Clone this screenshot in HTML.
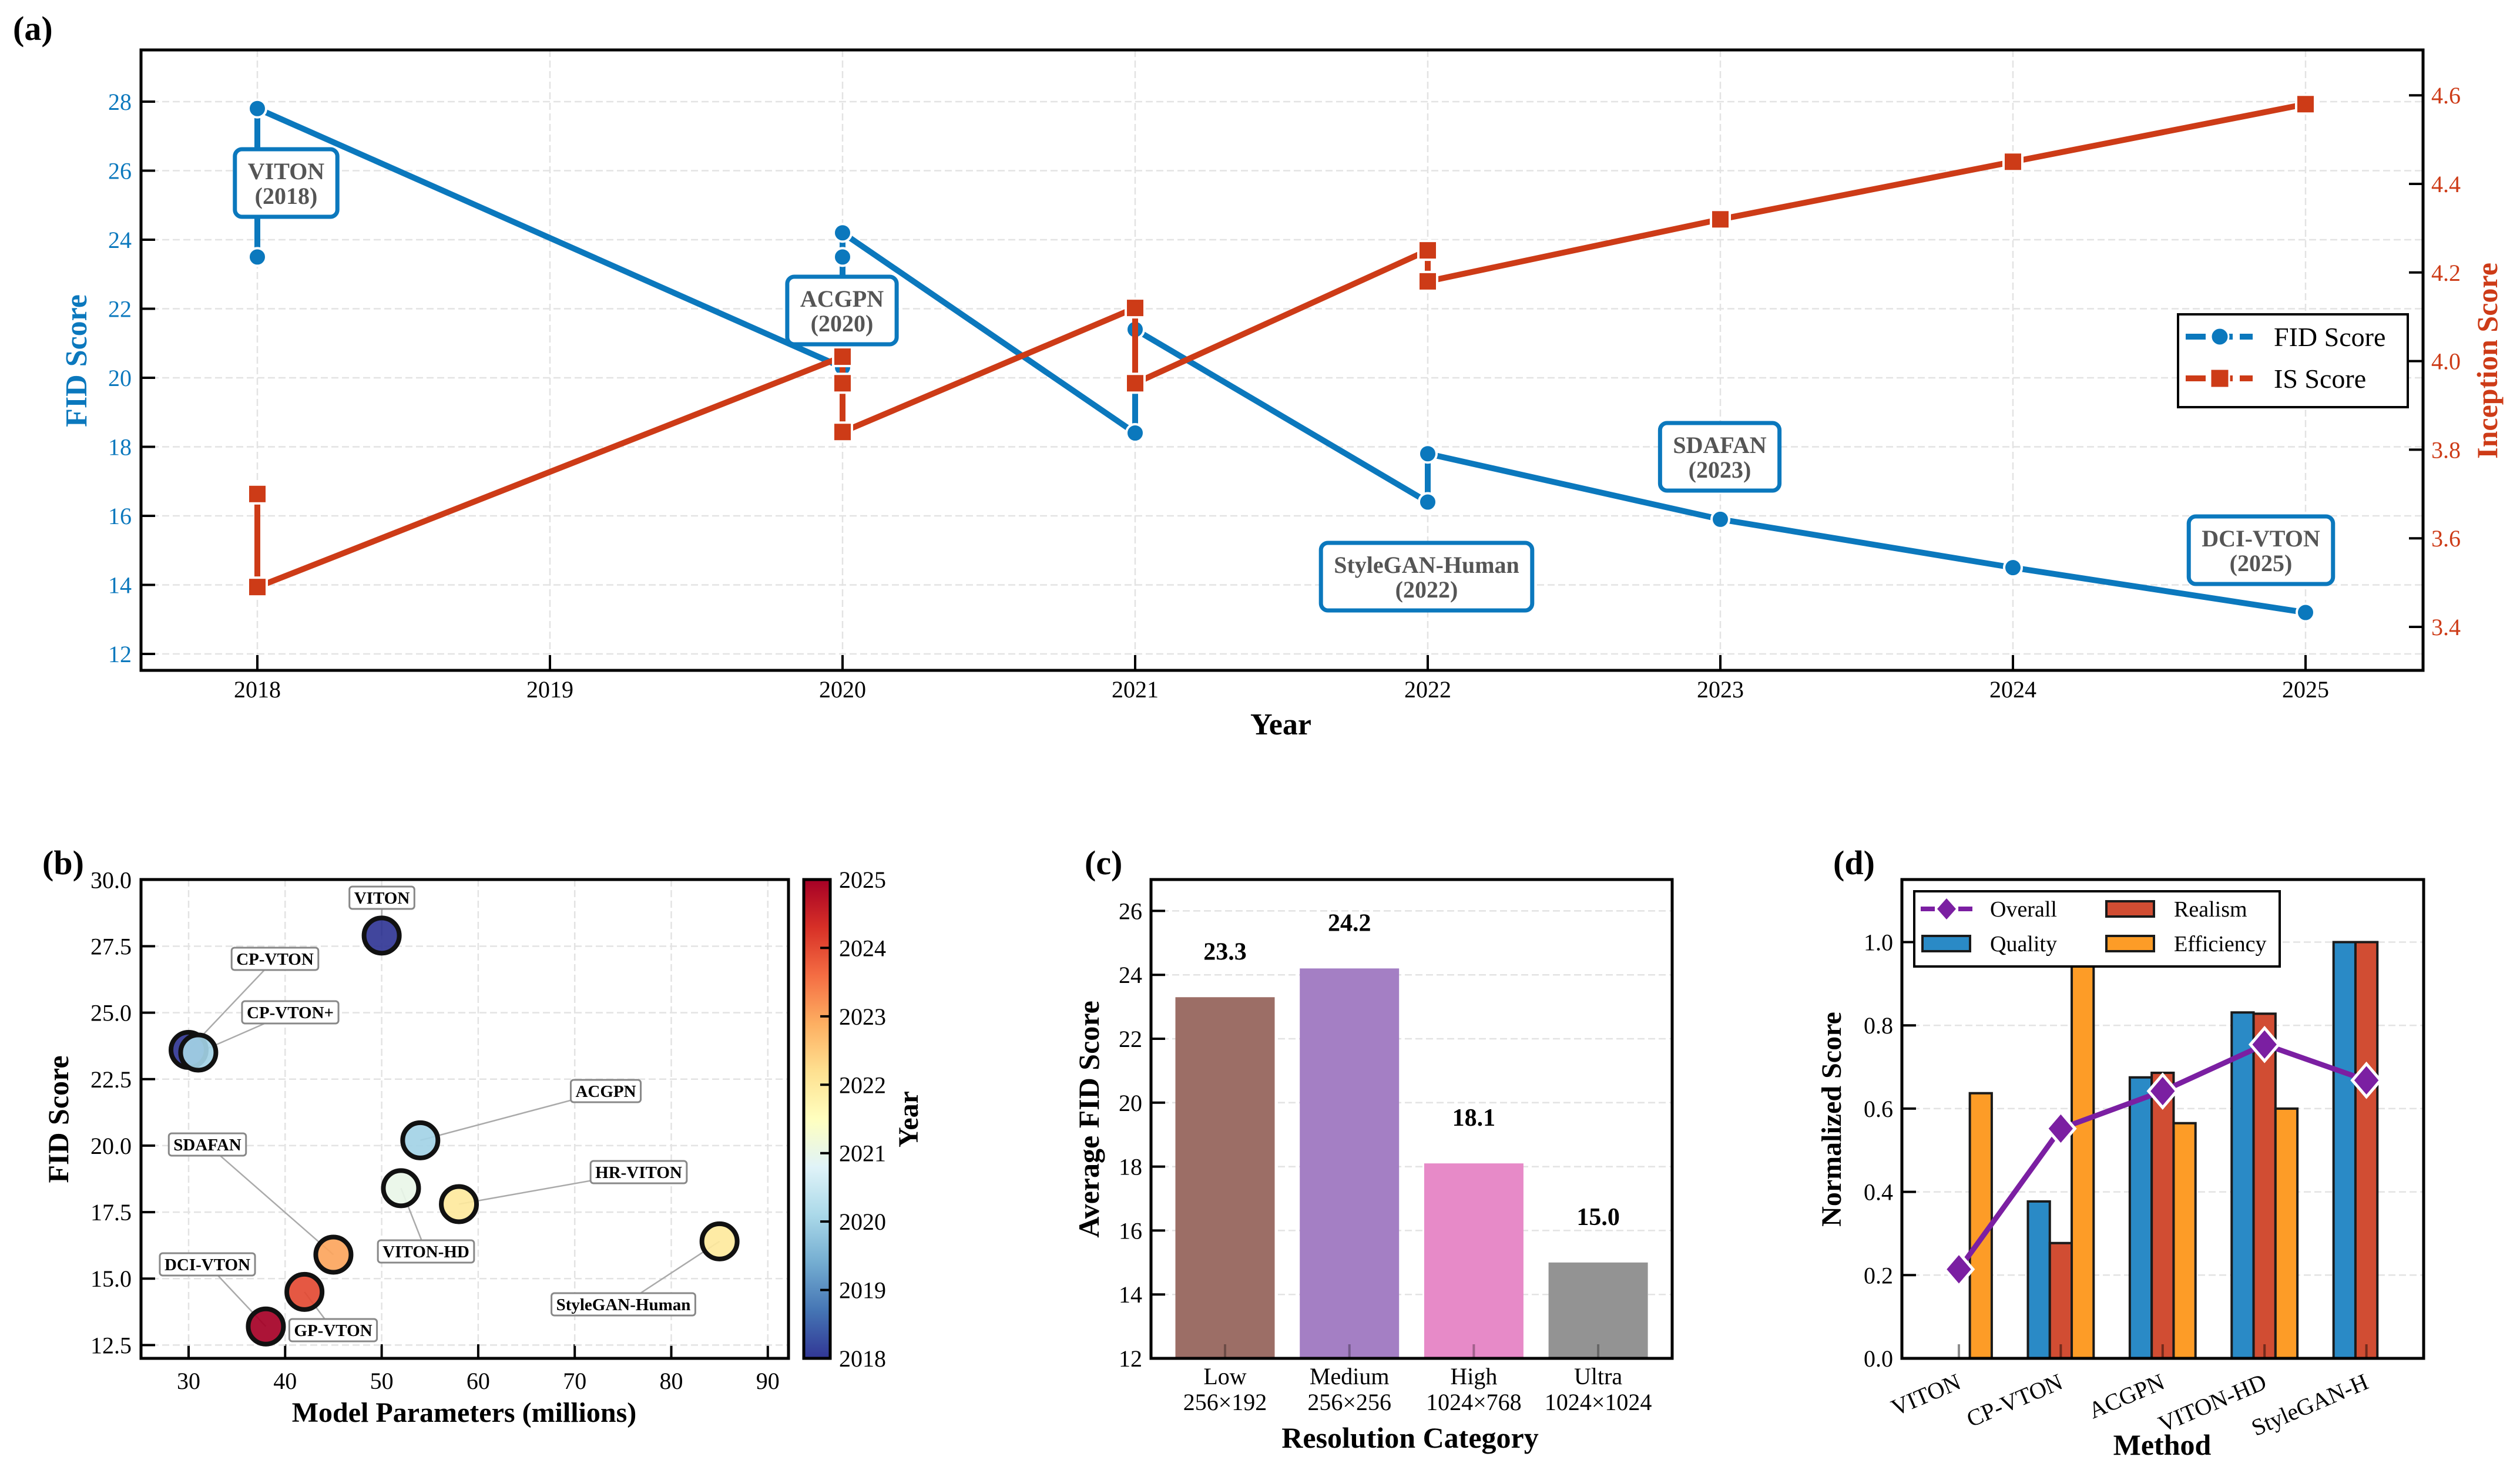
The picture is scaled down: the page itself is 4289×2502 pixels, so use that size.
<!DOCTYPE html>
<html><head><meta charset="utf-8">
<style>html,body{margin:0;padding:0;background:#fff}svg{display:block}text{font-family:"Liberation Serif","DejaVu Serif",serif}</style>
</head><body>
<svg id="fig" width="4289" height="2502" viewBox="0 0 4289 2502" xmlns="http://www.w3.org/2000/svg">
<defs>
<linearGradient id="cbgrad" x1="0" y1="1" x2="0" y2="0">
<stop offset="0" stop-color="#313695"/><stop offset="0.1" stop-color="#4575b4"/><stop offset="0.2" stop-color="#74add1"/><stop offset="0.3" stop-color="#abd9e9"/><stop offset="0.4" stop-color="#e0f3f8"/><stop offset="0.5" stop-color="#ffffbf"/><stop offset="0.6" stop-color="#fee090"/><stop offset="0.7" stop-color="#fdae61"/><stop offset="0.8" stop-color="#f46d43"/><stop offset="0.9" stop-color="#d73027"/><stop offset="1" stop-color="#a50026"/>
</linearGradient>
</defs>
<rect width="4289" height="2502" fill="#fff"/>
<g id="pa"></g>
<g id="pb"></g>
<g id="pc"></g>
<g id="pd"></g>
</svg>
<script>
// ---------- DATA ----------
const aFidYears=[2018,2018,2020,2020,2020,2021,2021,2022,2022,2023,2024,2025];
const aFidValues=[23.5,27.8,20.3,23.5,24.2,18.4,21.4,16.4,17.8,15.9,14.5,13.2];
const aIsYears=[2018,2018,2020,2020,2020,2021,2021,2022,2022,2023,2024,2025];
const aIsValues=[3.70,3.49,4.01,3.95,3.84,4.12,3.95,4.25,4.18,4.32,4.45,4.58];
const aYearTicks=[2018,2019,2020,2021,2022,2023,2024,2025];
const aFidTicks=[12,14,16,18,20,22,24,26,28];
const aIsTicks=[3.4,3.6,3.8,4.0,4.2,4.4,4.6];
const aNoteNames=['VITON','ACGPN','StyleGAN-Human','SDAFAN','DCI-VTON'];
const aNoteYears=['2018','2020','2022','2023','2025'];

const bNames=['VITON','CP-VTON','CP-VTON+','ACGPN','VITON-HD','HR-VITON','StyleGAN-Human','SDAFAN','GP-VTON','DCI-VTON'];
const bParams=[50,30,31,54,52,58,85,45,42,38];
const bFid=[27.9,23.6,23.5,20.2,18.4,17.8,16.4,15.9,14.5,13.2];
const bYear=[2018,2018,2020,2020,2021,2022,2022,2023,2024,2025];
const bXTicks=[30,40,50,60,70,80,90];
const bYTicks=[12.5,15.0,17.5,20.0,22.5,25.0,27.5,30.0];
const bCbTicks=[2018,2019,2020,2021,2022,2023,2024,2025];

const cCats=['Low','Medium','High','Ultra'];
const cRes=['256×192','256×256','1024×768','1024×1024'];
const cVals=[23.3,24.2,18.1,15.0];
const cYTicks=[12,14,16,18,20,22,24,26];

const dMethods=['VITON','CP-VTON','ACGPN','VITON-HD','StyleGAN-H'];
const dQuality=[0,0.377,0.675,0.831,1.0];
const dRealism=[0,0.277,0.686,0.828,1.0];
const dEfficiency=[0.637,1.0,0.565,0.60,0];
const dOverall=[0.214,0.552,0.642,0.754,0.668];
const dYTicks=[0,0.2,0.4,0.6,0.8,1.0];

// ---------- HELPERS ----------
const NS='http://www.w3.org/2000/svg';
function mk(p,tag,attrs,txt){const e=document.createElementNS(NS,tag);for(const k in attrs)e.setAttribute(k,attrs[k]);if(txt!==undefined)e.textContent=txt;p.appendChild(e);return e;}
const BLUE='#0b78bd', RED='#cd3b17';
let el;

// ================= PANEL A =================
const A=document.getElementById('pa');
const aL=240,aR=4124,aT=85,aB=1141;
const xA=y=>438+(y-2018)*498;
const yL=v=>1113-(v-12)*58.75;
const yR=v=>1067-(v-3.4)*754;
el=mk(A,'text',{x:22,y:68,'font-size':58,'font-weight':'bold'},'(a)');


for(const t of aYearTicks){
  el=mk(A,'line',{x1:xA(t),x2:xA(t),y1:aT,y2:aB,stroke:'#e3e3e3','stroke-width':2.5,'stroke-dasharray':'12 6'});
  
  
  el=mk(A,'line',{x1:xA(t),x2:xA(t),y1:aB,y2:aB-26,stroke:'#000','stroke-width':4});
  
  
  el=mk(A,'text',{x:xA(t),y:aB+46,'font-size':40,'text-anchor':'middle'},String(t));
  
  
}
for(const t of aFidTicks){
  el=mk(A,'line',{x1:aL,x2:aR,y1:yL(t),y2:yL(t),stroke:'#e3e3e3','stroke-width':2.5,'stroke-dasharray':'12 6'});
  
  
  el=mk(A,'line',{x1:aL,x2:aL+24,y1:yL(t),y2:yL(t),stroke:'#000','stroke-width':4});
  
  
  el=mk(A,'text',{x:aL-16,y:yL(t)+14,'font-size':40,'text-anchor':'end',fill:BLUE},String(t));
  
  
}
for(const t of aIsTicks){
  el=mk(A,'line',{x1:aR,x2:aR-24,y1:yR(t),y2:yR(t),stroke:'#000','stroke-width':4});
  
  
  el=mk(A,'text',{x:aR+14,y:yR(t)+14,'font-size':40,fill:RED},t.toFixed(1));
  
  
}
el=mk(A,'polyline',{points:aFidYears.map((y,i)=>xA(y)+','+yL(aFidValues[i])).join(' '),fill:'none',stroke:BLUE,'stroke-width':10,'stroke-linejoin':'round'});


aFidYears.forEach((y,i)=>{
  el=mk(A,'circle',{cx:xA(y),cy:yL(aFidValues[i]),r:15,fill:BLUE,stroke:'#fff','stroke-width':4});
  
  
});
el=mk(A,'polyline',{points:aIsYears.map((y,i)=>xA(y)+','+yR(aIsValues[i])).join(' '),fill:'none',stroke:RED,'stroke-width':10,'stroke-linejoin':'round'});


aIsYears.forEach((y,i)=>{
  el=mk(A,'rect',{x:xA(y)-16,y:yR(aIsValues[i])-16,width:32,height:32,fill:RED,stroke:'#fff','stroke-width':4});
  
  
});
const aNoteCx=[487,1433,2428,2927,3848], aNoteCy=[311,528,981,777,936];
aNoteNames.forEach((n,i)=>{
  const g=mk(A,'g',{});
  
  
  const t1=mk(g,'text',{x:aNoteCx[i],y:aNoteCy[i]-6,'font-size':40,'font-weight':'bold','text-anchor':'middle',fill:'#555'},n);
  const t2=mk(g,'text',{x:aNoteCx[i],y:aNoteCy[i]+36,'font-size':40,'font-weight':'bold','text-anchor':'middle',fill:'#555'},'('+aNoteYears[i]+')');
  const w=Math.max(t1.getComputedTextLength(),t2.getComputedTextLength())+44;
  const r=document.createElementNS(NS,'rect');
  r.setAttribute('x',aNoteCx[i]-w/2);r.setAttribute('y',aNoteCy[i]-57);r.setAttribute('width',w);r.setAttribute('height',115);
  r.setAttribute('rx',12);r.setAttribute('fill','#fff');r.setAttribute('stroke',BLUE);r.setAttribute('stroke-width',7);
  
  
  g.insertBefore(r,t1);
});
el=mk(A,'rect',{x:aL,y:aT,width:aR-aL,height:aB-aT,fill:'none',stroke:'#000','stroke-width':5});


el=mk(A,'text',{x:2180,y:1250,'font-size':52,'font-weight':'bold','text-anchor':'middle'},'Year');


el=mk(A,'text',{x:0,y:0,'font-size':52,'font-weight':'bold','text-anchor':'middle',fill:BLUE,'font-family':'DejaVu Serif, serif',transform:'translate(147,614) rotate(-90)'},'FID Score');


el=mk(A,'text',{x:0,y:0,'font-size':50,'font-weight':'bold','text-anchor':'middle',fill:RED,'font-family':'DejaVu Serif, serif',transform:'translate(4250,614) rotate(-90)'},'Inception Score');


const LG=mk(A,'g',{});


el=mk(LG,'rect',{x:3707,y:535,width:391,height:158,fill:'#fff',stroke:'#000','stroke-width':4});


[[BLUE,'FID Score',573,'c'],[RED,'IS Score',644,'s']].forEach(([c,lab,yy,m])=>{
  const g=mk(LG,'g',{});
  
  
  mk(g,'line',{x1:3720,x2:3834,y1:yy,y2:yy,stroke:c,'stroke-width':10,'stroke-dasharray':'34 12'});
  if(m==='c')mk(g,'circle',{cx:3778,cy:yy,r:15,fill:c,stroke:'#fff','stroke-width':3});
  else mk(g,'rect',{x:3762,y:yy-16,width:32,height:32,fill:c,stroke:'#fff','stroke-width':3});
  mk(g,'text',{x:3870,y:yy+16,'font-size':46},lab);
});

// ================= PANEL B =================
const B=document.getElementById('pb');
const bL=240,bR=1342,bT=1497,bBt=2312;
const xB=v=>321+(v-30)*16.43;
const yB=v=>bBt-(v-12)*45.26;
const cmapStops=['#313695','#4575b4','#74add1','#abd9e9','#e0f3f8','#ffffbf','#fee090','#fdae61','#f46d43','#d73027','#a50026'];
function hex(h){return [1,3,5].map(i=>parseInt(h.substr(i,2),16));}
function cmap(t){t=Math.max(0,Math.min(1,t))*10;const i=Math.min(9,Math.floor(t)),f=t-i;const a=hex(cmapStops[i]),b=hex(cmapStops[i+1]);return 'rgb('+a.map((v,k)=>Math.round(v+(b[k]-v)*f)).join(',')+')';}
el=mk(B,'text',{x:72,y:1488,'font-size':58,'font-weight':'bold'},'(b)');


for(const t of bXTicks){
  el=mk(B,'line',{x1:xB(t),x2:xB(t),y1:bT,y2:bBt,stroke:'#e3e3e3','stroke-width':2.5,'stroke-dasharray':'12 6'});
  
  
  el=mk(B,'line',{x1:xB(t),x2:xB(t),y1:bBt,y2:bBt-24,stroke:'#000','stroke-width':4});
  
  
  el=mk(B,'text',{x:xB(t),y:bBt+52,'font-size':40,'text-anchor':'middle'},String(t));
  
  
}
for(const t of bYTicks){
  el=mk(B,'line',{x1:bL,x2:bR,y1:yB(t),y2:yB(t),stroke:'#e3e3e3','stroke-width':2.5,'stroke-dasharray':'12 6'});
  
  
  el=mk(B,'line',{x1:bL,x2:bL+24,y1:yB(t),y2:yB(t),stroke:'#000','stroke-width':4});
  
  
  el=mk(B,'text',{x:bL-16,y:yB(t)+14,'font-size':40,'text-anchor':'end'},t.toFixed(1));
  
  
}
const bLabX=[650,468,494,1031,725,1087,1061,353,567,353];
const bLabY=[1528,1632,1723,1857,2130,1995,2220,1948,2264,2152];
bNames.forEach((n,i)=>{
  el=mk(B,'line',{x1:bLabX[i],y1:bLabY[i],x2:xB(bParams[i]),y2:yB(bFid[i]),stroke:'#aaa','stroke-width':2.5});
  
  
});
bNames.forEach((n,i)=>{
  el=mk(B,'circle',{cx:xB(bParams[i]),cy:yB(bFid[i]),r:30,fill:cmap((bYear[i]-2018)/7),'fill-opacity':0.92,stroke:'#111','stroke-width':8});
  
  
});
bNames.forEach((n,i)=>{
  const g=mk(B,'g',{});
  
  
  const t=mk(g,'text',{x:bLabX[i],y:bLabY[i]+10,'font-size':29,'font-weight':'bold','text-anchor':'middle'},n);
  const w=t.getComputedTextLength()+16;
  const r=document.createElementNS(NS,'rect');
  r.setAttribute('x',bLabX[i]-w/2);r.setAttribute('y',bLabY[i]-19);r.setAttribute('width',w);r.setAttribute('height',38);
  r.setAttribute('rx',5);r.setAttribute('fill','#fff');r.setAttribute('stroke','#888');r.setAttribute('stroke-width',3);
  
  
  g.insertBefore(r,t);
});
el=mk(B,'rect',{x:bL,y:bT,width:bR-bL,height:bBt-bT,fill:'none',stroke:'#000','stroke-width':5});


el=mk(B,'text',{x:790,y:2420,'font-size':48,'font-weight':'bold','text-anchor':'middle'},'Model Parameters (millions)');


el=mk(B,'text',{x:0,y:0,'font-size':50,'font-weight':'bold','text-anchor':'middle','font-family':'DejaVu Serif, serif',transform:'translate(116,1905) rotate(-90)'},'FID Score');


const cbT=1497,cbB=2312;
const yCb=v=>cbB-(v-2018)/7*(cbB-cbT);
el=mk(B,'rect',{x:1368,y:cbT,width:45,height:cbB-cbT,fill:'url(#cbgrad)',stroke:'#000','stroke-width':5});


for(const t of bCbTicks){
  el=mk(B,'line',{x1:1396,x2:1413,y1:yCb(t),y2:yCb(t),stroke:'#000','stroke-width':4});
  
  
  el=mk(B,'text',{x:1428,y:yCb(t)+14,'font-size':40},String(t));
  
  
}
el=mk(B,'text',{x:0,y:0,'font-size':48,'font-weight':'bold','text-anchor':'middle','font-family':'DejaVu Serif, serif',transform:'translate(1562,1905) rotate(-90)'},'Year');



// ================= PANEL C =================
const C=document.getElementById('pc');
const cL=1959,cR=2846,cT=1497,cB=2312;
const xC=i=>2085+i*211.7;
const yC=v=>cB-(v-12)*54.4;
const cColors=['#9c6e66','#a47fc4','#e78ac8','#939393'];
el=mk(C,'text',{x:1846,y:1488,'font-size':58,'font-weight':'bold'},'(c)');


for(const t of cYTicks){
  el=mk(C,'line',{x1:cL,x2:cR,y1:yC(t),y2:yC(t),stroke:'#e3e3e3','stroke-width':2.5,'stroke-dasharray':'12 6'});
  
  
  el=mk(C,'line',{x1:cL,x2:cL+24,y1:yC(t),y2:yC(t),stroke:'#000','stroke-width':4});
  
  
  el=mk(C,'text',{x:1944,y:yC(t)+14,'font-size':40,'text-anchor':'end'},String(t));
  
  
}
cVals.forEach((v,i)=>{
  el=mk(C,'rect',{x:xC(i)-84.5,y:yC(v),width:169,height:cB-yC(v),fill:cColors[i]});
  
  
  el=mk(C,'line',{x1:xC(i),x2:xC(i),y1:cB,y2:cB-24,stroke:'rgba(0,0,0,0.3)','stroke-width':4});
  
  
  el=mk(C,'text',{x:xC(i),y:yC(v)-64,'font-size':42,'font-weight':'bold','text-anchor':'middle'},v.toFixed(1));
  
  
  el=mk(C,'text',{x:xC(i),y:2356,'font-size':40,'text-anchor':'middle'},cCats[i]);
  
  
  el=mk(C,'text',{x:xC(i),y:2400,'font-size':40,'text-anchor':'middle'},cRes[i]);
  
  
});
el=mk(C,'rect',{x:cL,y:cT,width:cR-cL,height:cB-cT,fill:'none',stroke:'#000','stroke-width':5});


el=mk(C,'text',{x:2400,y:2464,'font-size':50,'font-weight':'bold','text-anchor':'middle'},'Resolution Category');


el=mk(C,'text',{x:0,y:0,'font-size':50,'font-weight':'bold','text-anchor':'middle',transform:'translate(1870,1905) rotate(-90)'},'Average FID Score');



// ================= PANEL D =================
const D=document.getElementById('pd');
const dL=3237,dR=4125,dT=1497,dB=2312;
const xD=i=>3334+i*173.4;
const yD=v=>dB-v*708.5;
const bw=0.215*173.4;
el=mk(D,'text',{x:3120,y:1488,'font-size':58,'font-weight':'bold'},'(d)');


for(const t of dYTicks){
  el=mk(D,'line',{x1:dL,x2:dR,y1:yD(t),y2:yD(t),stroke:'#e3e3e3','stroke-width':2.5,'stroke-dasharray':'12 6'});
  
  
  el=mk(D,'line',{x1:dL,x2:dL+24,y1:yD(t),y2:yD(t),stroke:'#000','stroke-width':4});
  
  
  el=mk(D,'text',{x:3222,y:yD(t)+14,'font-size':40,'text-anchor':'end'},t.toFixed(1));
  
  
}
const dSeries=[[dQuality,'#2a8ac6',-1,'quality'],[dRealism,'#d14d33',0,'realism'],[dEfficiency,'#fd9c27',1,'efficiency']];
dMethods.forEach((m,i)=>{
  dSeries.forEach(([arr,col,off,nm])=>{
    const v=arr[i];
    el=mk(D,'rect',{x:xD(i)+off*bw-bw/2,y:yD(v),width:bw,height:dB-yD(v),fill:col,stroke:'#1a1a1a','stroke-width':4});
    
    
  });
  el=mk(D,'line',{x1:xD(i),x2:xD(i),y1:dB,y2:dB-24,stroke:'rgba(0,0,0,0.45)','stroke-width':4});
  
  
  el=mk(D,'text',{x:0,y:0,'font-size':40,'text-anchor':'end',transform:'translate('+(xD(i)+6)+',2362) rotate(-23)'},m);
  
  
});
el=mk(D,'polyline',{points:dOverall.map((v,i)=>xD(i)+','+yD(v)).join(' '),fill:'none',stroke:'#7b1fa2','stroke-width':9,'stroke-linejoin':'round'});


dOverall.forEach((v,i)=>{
  const cx=xD(i),cy=yD(v);
  el=mk(D,'polygon',{points:`${cx},${cy-28} ${cx+24},${cy} ${cx},${cy+28} ${cx-24},${cy}`,fill:'#7b1fa2',stroke:'#fff','stroke-width':5});
  
  
});
el=mk(D,'rect',{x:dL,y:dT,width:dR-dL,height:dB-dT,fill:'none',stroke:'#000','stroke-width':5});


const LD=mk(D,'g',{});


el=mk(LD,'rect',{x:3258,y:1517,width:622,height:128,fill:'#fff',stroke:'#000','stroke-width':4});


let g=mk(LD,'g',{});


mk(g,'line',{x1:3269,x2:3358,y1:1547,y2:1547,stroke:'#7b1fa2','stroke-width':8,'stroke-dasharray':'24 8'});
mk(g,'polygon',{points:'3313,1529 3329,1547 3313,1565 3297,1547',fill:'#7b1fa2'});
mk(g,'text',{x:3387,y:1560,'font-size':38},'Overall');
[['Realism','#d14d33',3585,1547,3700],['Quality','#2a8ac6',3272,1606,3387],['Efficiency','#fd9c27',3585,1606,3700]].forEach(([lab,col,px,py,tx])=>{
  const gg=mk(LD,'g',{});
  
  
  mk(gg,'rect',{x:px,y:py-13,width:81,height:26,fill:col,stroke:'#1a1a1a','stroke-width':4});
  mk(gg,'text',{x:tx,y:py+13,'font-size':38},lab);
});
el=mk(D,'text',{x:3680,y:2476,'font-size':50,'font-weight':'bold','text-anchor':'middle'},'Method');


el=mk(D,'text',{x:0,y:0,'font-size':48,'font-weight':'bold','text-anchor':'middle',transform:'translate(3133,1905) rotate(-90)'},'Normalized Score');


</script>
</body></html>
